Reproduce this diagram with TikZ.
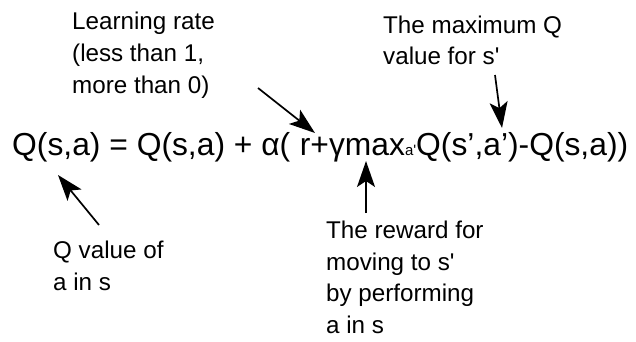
\documentclass[tikz,border=0pt]{standalone}
\usepackage{fontspec}
\usepackage{tikz}
\usetikzlibrary{positioning,arrows.meta,calc}
\newfontfamily\arial{Liberation Sans}
\tikzset{
  note/.style={font={\arial\fontsize{24.2}{31.5}\selectfont},align=left,inner sep=0pt,anchor=base west},
  pointer/.style={line width=1.7pt,-{Stealth[length=26pt,width=18pt,inset=6pt]}},
}

\begin{document}
\begin{tikzpicture}[x=1pt,y=-1pt]
  \useasboundingbox (0,0) rectangle (636,342);
  % the update rule
  \node[font={\arial\fontsize{31.8}{31.8}\selectfont},inner sep=0pt,anchor=base west] (eq) at (12,155)
    {Q(s,a) = Q(s,a) + α(\hspace{0.3em}r+γmax{\fontsize{15}{15}\selectfont a'}Q(s’,a’)-Q(s,a))};
  % labels (placed at the baseline of their last line)
  \node[note] (lr) at (72,93) {Learning rate\\(less than 1,\\more than 0)};
  \node[note] (maxq) at (383,65) {The maximum Q\\value for s'};
  \node[note] (qsa) at (53,290) {Q value of\\a in s};
  \node[note] (rew) at (326,333) {The reward for\\moving to s'\\by performing\\a in s};
  % arrow ends
  \coordinate (lrtail) at (258,88);
  \coordinate (lrtip) at (315,133);
  \coordinate (maxtail) at (495,75);
  \coordinate (maxtip) at (502,128);
  \coordinate (qtail) at (99,225);
  \coordinate (qtip) at (58,175);
  \coordinate (rtail) at (366,213);
  \coordinate (rtip) at (366,161);
  \draw[pointer] (lrtail) -- (lrtip);
  \draw[pointer] (maxtail) -- (maxtip);
  \draw[pointer] (qtail) -- (qtip);
  \draw[pointer] (rtail) -- (rtip);
\end{tikzpicture}
\end{document}
